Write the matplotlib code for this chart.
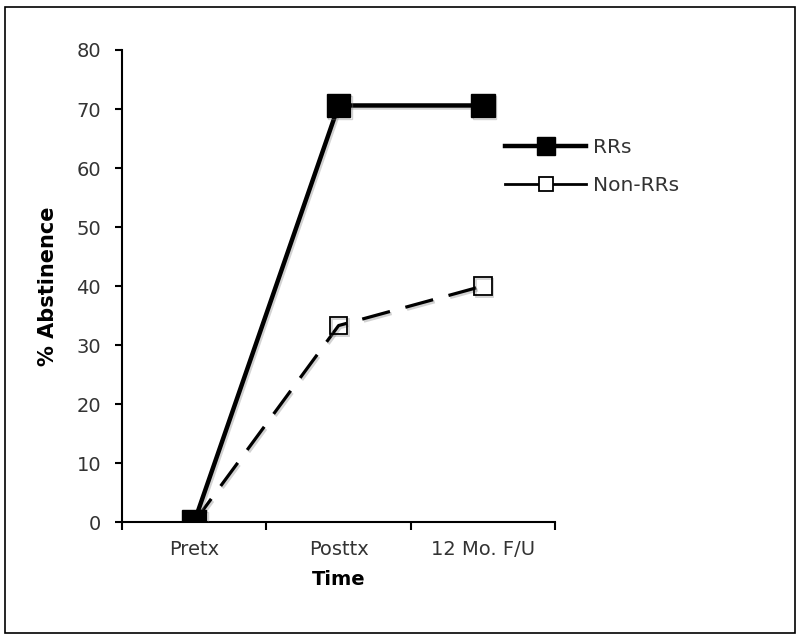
import matplotlib
matplotlib.use('Agg')
import matplotlib.pyplot as plt
import matplotlib.patheffects as pe
from matplotlib.lines import Line2D
from matplotlib.patches import Rectangle

# data
time_points = ['Pretx', 'Posttx', '12 Mo. F/U']
rrs = [0, 70.6, 70.6]
non_rrs = [0, 33.3, 40.0]
y_ticks = [0, 10, 20, 30, 40, 50, 60, 70, 80]

plt.rcParams['font.family'] = ['DejaVu Sans']

fig = plt.figure(figsize=(8, 6.41), dpi=100)
ax = fig.add_axes([0.1525, 0.1856, 0.694 - 0.1525, 0.922 - 0.1856])

shadow = [pe.SimpleLineShadow(offset=(1.2, -1.5), shadow_color='gray', alpha=0.35), pe.Normal()]

x = list(range(len(time_points)))
ax.plot(x, non_rrs, color='black', linewidth=2.3, dashes=(9, 5),
        marker='s', markersize=12.5, markerfacecolor='none',
        markeredgecolor='black', markeredgewidth=1.3, zorder=3, path_effects=shadow)
ax.plot(x, rrs, color='black', linewidth=3.2, marker='s', markersize=17,
        markerfacecolor='black', markeredgecolor='black', zorder=4, path_effects=shadow)

ax.set_xlim(-0.5, 2.5)
ax.set_ylim(0, 80)
ax.set_yticks(y_ticks)
ax.set_xticks(x)
ax.set_xticklabels(time_points)
ax.set_xticks([-0.5, 0.5, 1.5, 2.5], minor=True)
ax.tick_params(axis='x', which='major', length=0, pad=13, labelsize=14, colors='#333333')
ax.tick_params(axis='x', which='minor', length=6, width=1.5, direction='out')
ax.tick_params(axis='y', length=5, width=1.5, direction='out', pad=10, labelsize=14, colors='#333333')
ax.tick_params(axis='both', which='both', color='black')

for side in ['top', 'right']:
    ax.spines[side].set_visible(False)
for side in ['left', 'bottom']:
    ax.spines[side].set_linewidth(1.5)

ax.set_xlabel('Time', fontsize=14, fontweight='bold', labelpad=8)
ax.set_ylabel('% Abstinence', fontsize=15, fontweight='bold', labelpad=13)

handles = [
    Line2D([], [], color='black', linewidth=3.2, marker='s', markersize=12.5,
           markerfacecolor='black'),
    Line2D([], [], color='black', linewidth=2, marker='s', markersize=10,
           markerfacecolor='white', markeredgewidth=1.3),
]
leg = ax.legend(handles, ['RRs', 'Non-RRs'], loc='upper left',
                bbox_to_anchor=(0.862, 0.835), frameon=False, fontsize=14.5,
                handlelength=4.0, handletextpad=0.35, labelspacing=0.95,
                borderpad=0)
for t in leg.get_texts():
    t.set_color('#333333')

fig.patches.append(Rectangle((0.006, 0.012), 0.988, 0.977, transform=fig.transFigure,
                             fill=False, edgecolor='black', linewidth=1.2))

fig.savefig('out.png', dpi=100)
